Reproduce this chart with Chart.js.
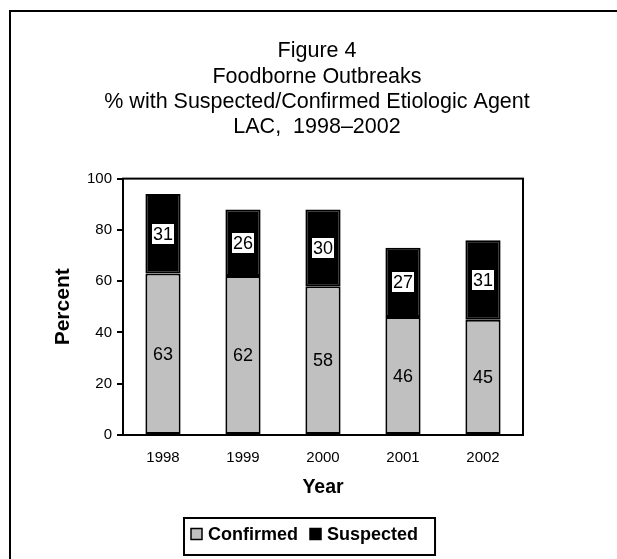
<!DOCTYPE html>
<html><head><meta charset="utf-8">
<script src="https://cdn.jsdelivr.net/npm/chart.js@4.4.0/dist/chart.umd.min.js"></script>
<style>html,body{margin:0;padding:0;background:#fff;overflow:hidden;}</style>
</head><body>
<canvas id="c" width="617" height="559"></canvas>
<script>
const years = ['1998', '1999', '2000', '2001', '2002'];
const confirmed = [63, 62, 58, 46, 45];
const suspected = [31, 26, 30, 27, 31];
const seriesNames = ['Confirmed', 'Suspected'];
const seriesColors = ['#C0C0C0', '#000000'];
const yTicks = [0, 20, 40, 60, 80, 100];
const titleLines = ['Figure 4', 'Foodborne Outbreaks', '% with Suspected/Confirmed Etiologic Agent', 'LAC,  1998\u20132002'];
const axisTitles = {x: 'Year', y: 'Percent'};

const FONT = "'Liberation Sans', Arial, Helvetica, sans-serif";

const framePlugin = {
  id: 'frame',
  beforeDraw(chart) {
    const ctx = chart.ctx;
    ctx.save();
    ctx.fillStyle = '#fff';
    ctx.fillRect(0, 0, chart.width, chart.height);
    ctx.restore();
  },
  afterDraw(chart) {
    const ctx = chart.ctx;
    ctx.save();
    ctx.strokeStyle = '#000';
    ctx.lineWidth = 2;
    ctx.beginPath();
    ctx.moveTo(chart.width + 5, 11);
    ctx.lineTo(10, 11);
    ctx.lineTo(10, chart.height + 5);
    ctx.stroke();
    const a = chart.chartArea;
    ctx.strokeRect(a.left, a.top, a.right - a.left, a.bottom - a.top);
    ctx.restore();
  }
};

const labelPlugin = {
  id: 'valueLabels',
  afterDatasetsDraw(chart) {
    const ctx = chart.ctx;
    ctx.save();
    ctx.font = '18px ' + FONT;
    ctx.textAlign = 'center';
    ctx.textBaseline = 'middle';
    chart.data.datasets.forEach((ds, di) => {
      const meta = chart.getDatasetMeta(di);
      meta.data.forEach((bar, i) => {
        const txt = String(ds.data[i]);
        const cx = bar.x;
        const cy = (bar.y + bar.base) / 2;
        if (di === 1) {
          const w = ctx.measureText(txt).width + 2;
          ctx.fillStyle = '#fff';
          ctx.fillRect(Math.round(cx - w / 2), Math.round(cy - 10), Math.round(w), 20);
        }
        ctx.fillStyle = '#000';
        ctx.fillText(txt, cx, cy + 1);
      });
    });
    ctx.restore();
  }
};

const legendPlugin = {
  id: 'boxLegend',
  afterDraw(chart) {
    const ctx = chart.ctx;
    ctx.save();
    ctx.font = 'bold 18px ' + FONT;
    const ds = chart.data.datasets;
    const w1 = ctx.measureText(ds[0].label).width;
    const w2 = ctx.measureText(ds[1].label).width;
    const total = 7 + 11 + 6 + w1 + 12 + 11 + 6 + w2 + 17;
    const L = Math.round(chart.width / 2 + 1 - total / 2);
    const T = 518, H = 37;
    ctx.strokeStyle = '#000';
    ctx.lineWidth = 2;
    ctx.strokeRect(L, T, total, H);
    const cy = T + 16;
    let x = L + 7;
    ctx.textBaseline = 'middle';
    ctx.textAlign = 'left';
    for (let k = 0; k < 2; k++) {
      ctx.fillStyle = ds[k].backgroundColor;
      ctx.fillRect(x, cy - 5.5, 11, 11);
      ctx.lineWidth = 1.5;
      ctx.strokeStyle = '#000';
      ctx.strokeRect(x, cy - 5.5, 11, 11);
      x += 11 + 6;
      ctx.fillStyle = '#000';
      ctx.fillText(ds[k].label, x, cy + 1);
      x += (k === 0 ? w1 : w2) + 12;
    }
    ctx.restore();
  }
};

new Chart(document.getElementById('c'), {
  type: 'bar',
  data: {
    labels: years,
    datasets: [
      {label: seriesNames[0], data: confirmed, backgroundColor: seriesColors[0], borderColor: '#000', borderWidth: 2, borderSkipped: false},
      {label: seriesNames[1], data: suspected, backgroundColor: seriesColors[1], borderColor: '#000', borderWidth: 2, borderSkipped: false}
    ]
  },
  options: {
    responsive: false,
    animation: false,
    devicePixelRatio: 1,
    layout: {padding: {left: 17, right: 0, top: 0, bottom: 60}},
    datasets: {bar: {barPercentage: 0.44, categoryPercentage: 1}},
    plugins: {
      legend: {display: false},
      tooltip: {enabled: false},
      title: {
        display: true,
        text: titleLines,
        color: '#000',
        font: {family: FONT, size: 21.5, weight: 'normal', lineHeight: 1.17},
        padding: {top: 39, bottom: 39}
      }
    },
    scales: {
      x: {
        stacked: true,
        grid: {display: false, drawTicks: false},
        border: {display: true, color: '#000', width: 2},
        ticks: {color: '#000', font: {family: FONT, size: 15}, padding: 14, maxRotation: 0},
        title: {display: true, text: axisTitles.x, color: '#000', font: {family: FONT, size: 19.5, weight: 'bold', lineHeight: 1.2}, padding: 0},
        afterFit(s) { s.height = 64; }
      },
      y: {
        stacked: true,
        min: 0, max: 100,
        afterBuildTicks(s) { s.ticks = yTicks.map(v => ({value: v})); },
        grid: {drawOnChartArea: false, drawTicks: true, tickLength: 6, color: '#000', lineWidth: 2},
        border: {display: true, color: '#000', width: 2},
        ticks: {color: '#000', font: {family: FONT, size: 15}, padding: 5},
        title: {display: true, text: axisTitles.y, color: '#000', font: {family: FONT, size: 21, weight: 'bold', lineHeight: 1.2}, padding: {top: 34, bottom: 0}},
        afterFit(s) { s.width = 106; }
      },
      yPad: {
        position: 'right',
        display: true,
        grid: {display: false, drawTicks: false},
        border: {display: false},
        ticks: {display: false},
        afterFit(s) { s.width = 94; }
      }
    }
  },
  plugins: [framePlugin, labelPlugin, legendPlugin]
});
</script>
</body></html>
